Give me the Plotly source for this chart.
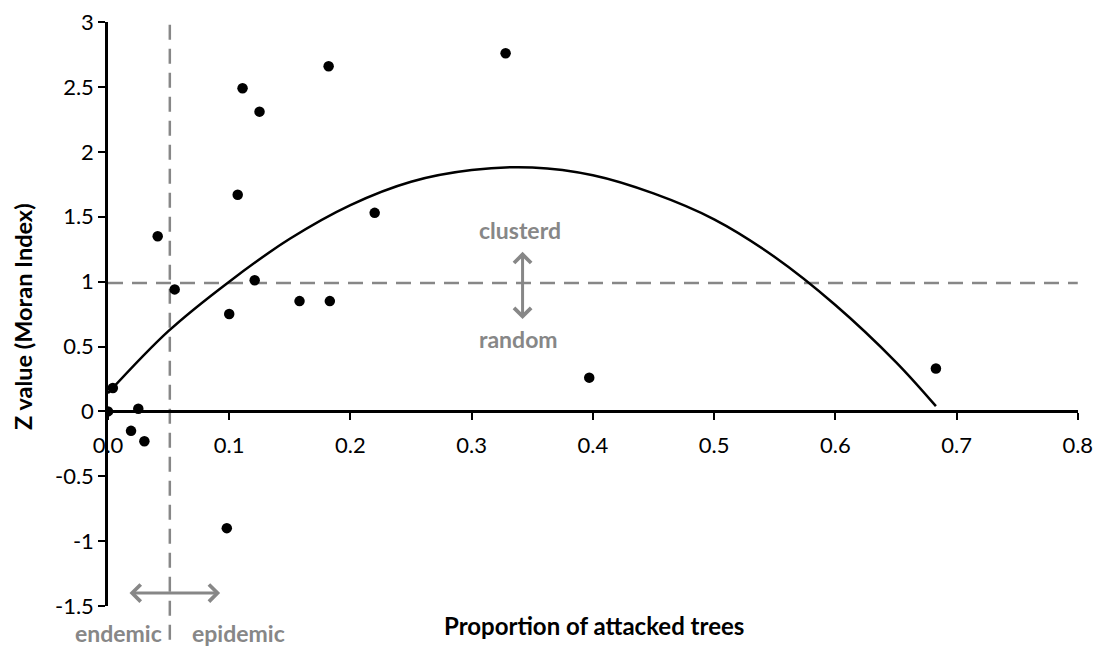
import plotly.graph_objects as go

# Scatter points (proportion of attacked trees, Z value)
prop = [0.000, 0.004, 0.019, 0.025, 0.030, 0.041, 0.055, 0.098, 0.100, 0.107,
        0.111, 0.121, 0.125, 0.158, 0.182, 0.183, 0.220, 0.328, 0.397, 0.683]
zval = [0.00, 0.18, -0.15, 0.02, -0.23, 1.35, 0.94, -0.90, 0.75, 1.67,
        2.49, 1.01, 2.31, 0.85, 2.66, 0.85, 1.53, 2.76, 0.26, 0.33]

# Trend curve
curve_x = [0.0, 0.05, 0.10, 0.15, 0.20, 0.25, 0.30, 0.35, 0.40, 0.45, 0.50, 0.55, 0.60, 0.65, 0.683]
curve_y = [0.14, 0.62, 1.00, 1.33, 1.59, 1.77, 1.86, 1.88, 1.82, 1.68, 1.48, 1.19, 0.82, 0.38, 0.04]

# Reference lines
threshold_x = 0.051
threshold_z = 0.99

x_ticks = [0.0, 0.1, 0.2, 0.3, 0.4, 0.5, 0.6, 0.7, 0.8]
y_ticks = [-1.5, -1, -0.5, 0, 0.5, 1, 1.5, 2, 2.5, 3]

FONT = "Lato, 'Open Sans', sans-serif"
GRAY = "#878787"
DASH = "15px,9px"

fig = go.Figure()
fig.add_trace(go.Scatter(x=curve_x, y=curve_y, mode="lines",
                         line=dict(color="black", width=2.5, shape="spline"),
                         showlegend=False, hoverinfo="skip"))
fig.add_trace(go.Scatter(x=prop, y=zval, mode="markers",
                         marker=dict(color="black", size=10.5),
                         showlegend=False))

# dashed reference lines
fig.add_shape(type="line", xref="x", yref="y", x0=0, x1=0.8, y0=threshold_z, y1=threshold_z,
              line=dict(color=GRAY, width=2.5, dash=DASH), layer="below")
fig.add_shape(type="line", xref="x", yref="paper", x0=threshold_x, x1=threshold_x, y0=-0.058, y1=1.0,
              line=dict(color=GRAY, width=2.5, dash=DASH), layer="below")

annots = []
# double arrows
annots.append(dict(x=0.342, y=1.23, ax=0.342, ay=0.70, xref="x", yref="y", axref="x", ayref="y",
                   text="", showarrow=True, arrowhead=4, arrowside="end+start", arrowsize=1.1,
                   arrowwidth=3, arrowcolor=GRAY))
annots.append(dict(x=0.0925, y=-1.40, ax=0.0165, ay=-1.40, xref="x", yref="y", axref="x", ayref="y",
                   text="", showarrow=True, arrowhead=4, arrowside="end+start", arrowsize=1.1,
                   arrowwidth=3, arrowcolor=GRAY))
# labels
for txt, xx, yy in [("clusterd", 0.340, 1.40), ("random", 0.339, 0.56)]:
    annots.append(dict(x=xx, y=yy, xref="x", yref="y", text="<b>%s</b>" % txt, showarrow=False,
                       font=dict(family=FONT, size=23, color=GRAY)))
for txt, xx in [("endemic", 0.0085), ("epidemic", 0.108)]:
    annots.append(dict(x=xx, y=-0.046, xref="x", yref="paper", text="<b>%s</b>" % txt, showarrow=False,
                       font=dict(family=FONT, size=23, color=GRAY), yanchor="middle"))
# axis titles
annots.append(dict(x=0.501, y=-0.033, xref="paper", yref="paper", text="<b>Proportion of attacked trees</b>",
                   showarrow=False, font=dict(family=FONT, size=24, color="black"), yanchor="middle"))
annots.append(dict(x=-0.0876, y=0.495, xref="paper", yref="paper", text="<b>Z value (Moran Index)</b>",
                   showarrow=False, textangle=-90, font=dict(family=FONT, size=23.5, color="black"),
                   xanchor="center", yanchor="middle"))

fig.update_layout(
    width=1097, height=647,
    margin=dict(l=108, r=19, t=22, b=41, autoexpand=False),
    paper_bgcolor="white", plot_bgcolor="white",
    font=dict(family=FONT, size=22, color="black"),
    annotations=annots,
    xaxis=dict(range=[0, 0.8002], tickvals=x_ticks, ticktext=["%.1f" % v for v in x_ticks],
               anchor="free", position=1/3, showline=True, linecolor="black", linewidth=2.5,
               ticks="outside", ticklen=7, tickwidth=2, tickcolor="black", ticklabelstandoff=7,
               ticklabeloverflow="allow", automargin=False,
               showgrid=False, zeroline=False, tickfont=dict(size=22)),
    yaxis=dict(range=[-1.5, 3.001], tickvals=y_ticks, ticktext=["%g" % v for v in y_ticks],
               showline=True, linecolor="black", linewidth=2.5,
               ticks="outside", ticklen=7, tickwidth=2, tickcolor="black",
               ticklabeloverflow="allow", automargin=False,
               showgrid=False, zeroline=False, tickfont=dict(size=22)),
)

# remove the browser's default body margin so the figure fills the window exactly
fig.write_html("out.html", config={"displayModeBar": False},
               post_script="document.body.style.margin='0';document.body.style.overflow='hidden';")
